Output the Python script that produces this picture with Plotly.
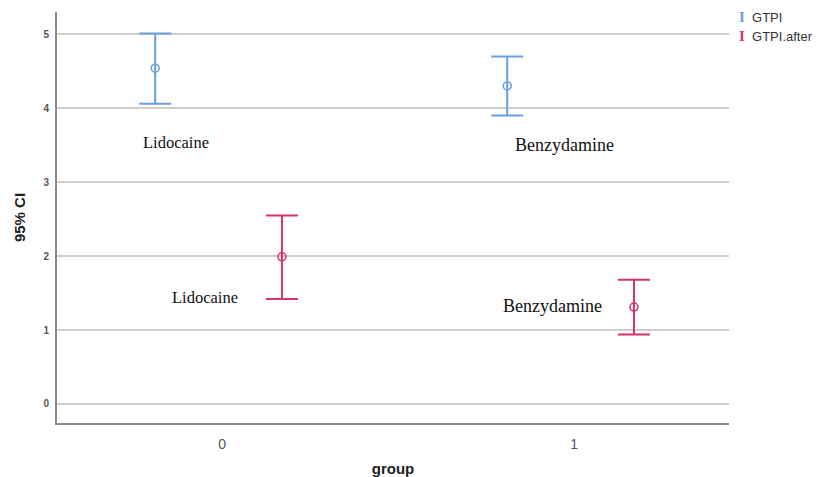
import plotly.graph_objects as go

groups = [0, 1]
gtpi_mean = [4.54, 4.30]
gtpi_upper = [5.01, 4.70]
gtpi_lower = [4.06, 3.90]
after_mean = [1.99, 1.31]
after_upper = [2.55, 1.68]
after_lower = [1.42, 0.94]
y_ticks = [0, 1, 2, 3, 4, 5]
labels_top = ["Lidocaine", "Benzydamine"]
labels_bottom = ["Lidocaine", "Benzydamine"]

BLUE = "#6a9fe0"
RED = "#d6336c"
off_a, off_b = -0.19, 0.17

fig = go.Figure()

def add_series(means, ups, lows, color, name, off):
    xs = [g + off for g in groups]
    fig.add_trace(go.Scatter(
        x=xs, y=means, mode="markers", name=name,
        marker=dict(symbol="circle-open", size=8, color=color, line=dict(width=1.5)),
        error_y=dict(type="data", symmetric=False,
                     array=[u - m for u, m in zip(ups, means)],
                     arrayminus=[m - l for m, l in zip(means, lows)],
                     color=color, thickness=2, width=16),
        showlegend=False))

add_series(gtpi_mean, gtpi_upper, gtpi_lower, BLUE, "GTPI", off_a)
add_series(after_mean, after_upper, after_lower, RED, "GTPI.after", off_b)

serif = "Liberation Serif, Times New Roman, serif"
ann_pos_top = [(-0.131, 3.54, 16.5), (0.974, 3.50, 18)]
ann_pos_bot = [(-0.048, 1.446, 16.5), (0.9375, 1.32, 18)]
for lab, (x, y, s) in zip(labels_top, ann_pos_top):
    fig.add_annotation(x=x, y=y, text=lab, showarrow=False,
                       font=dict(family=serif, size=s, color="#111"))
for lab, (x, y, s) in zip(labels_bottom, ann_pos_bot):
    fig.add_annotation(x=x, y=y, text=lab, showarrow=False,
                       font=dict(family=serif, size=s, color="#111"))

# legend as annotations (paper coords relative to plot area)
sans = "Liberation Sans, Arial"
for name, col, yy in [("GTPI", BLUE, 0.988), ("GTPI.after", RED, 0.942)]:
    fig.add_annotation(xref="paper", yref="paper", x=1.012, y=yy,
                       xanchor="left", yanchor="middle",
                       text=f"<span style='color:{col};font-family:Liberation Serif;font-size:15px'><b>I</b></span>&nbsp;&nbsp;{name}",
                       showarrow=False,
                       font=dict(family=sans, size=13, color="#333"))

fig.update_layout(
    width=816, height=477,
    margin=dict(l=57, r=87, t=12, b=54, autoexpand=False),
    plot_bgcolor="white", paper_bgcolor="white",
    showlegend=False,
    xaxis=dict(range=[-0.469, 1.44], tickvals=groups, ticktext=[str(g) for g in groups],
               showgrid=False, zeroline=False, showline=True, linecolor="#8a8a8a", linewidth=2,
               automargin=False, ticklabelstandoff=7,
               tickfont=dict(family=sans, size=14, color="#555"),
               title=dict(text="<b>group</b>", font=dict(family=sans, size=15, color="#222"),
                          standoff=18)),
    yaxis=dict(range=[-0.257, 5.30], tickvals=y_ticks, ticktext=[f"<b>{t}</b>" for t in y_ticks],
               showgrid=True, gridcolor="#cfcfcf", gridwidth=2, zeroline=False,
               showline=True, linecolor="#8a8a8a", linewidth=2,
               automargin=False, ticklabelstandoff=4,
               tickfont=dict(family=sans, size=10, color="#555"),
               title=dict(text="<b>95% CI</b>", font=dict(family=sans, size=15, color="#222"),
                          standoff=14)),
)

fig.write_html("out.html", config={"displayModeBar": False},
               post_script="document.body.style.margin='0';document.body.style.padding='0';")
